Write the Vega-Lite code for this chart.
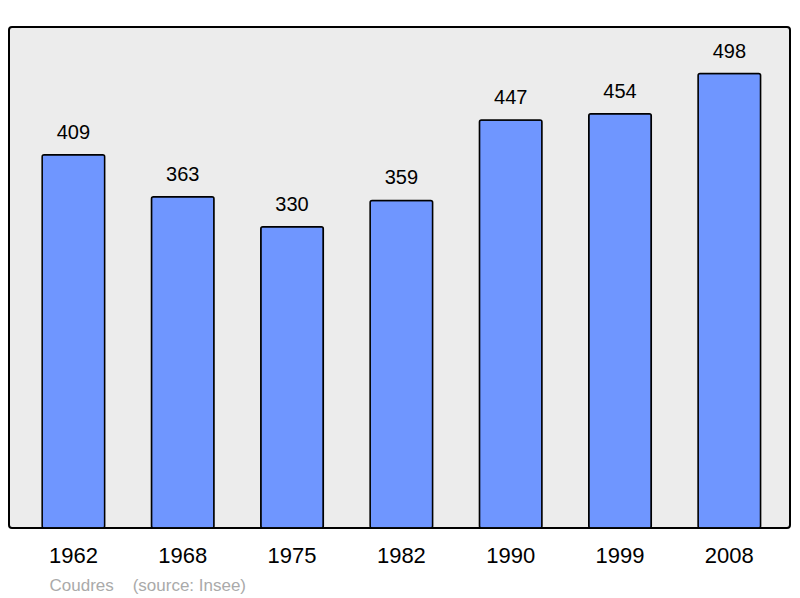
{
  "$schema": "https://vega.github.io/schema/vega-lite/v6.json",
  "width": 781,
  "height": 501,
  "autosize": {"type": "none"},
  "padding": {"left": 9, "top": 27, "right": 10, "bottom": 70},
  "background": "white",
  "data": {
    "values": [
      {"year": "1962", "population": 409},
      {"year": "1968", "population": 363},
      {"year": "1975", "population": 330},
      {"year": "1982", "population": 359},
      {"year": "1990", "population": 447},
      {"year": "1999", "population": 454},
      {"year": "2008", "population": 498}
    ]
  },
  "encoding": {
    "x": {
      "field": "year",
      "type": "ordinal",
      "sort": null,
      "scale": {"paddingInner": 0.428, "paddingOuter": 0.286, "align": 0.53},
      "axis": {
        "title": "Coudres\u00a0\u00a0\u00a0\u00a0(source: Insee)",
        "titleColor": "#aaaaaa",
        "titleFont": "Liberation Sans",
        "titleFontSize": 17,
        "titleFontWeight": "normal",
        "titleAlign": "left",
        "titleAnchor": "start",
        "titleBaseline": "alphabetic",
        "titleX": 40,
        "titleY": 62,
        "labelAngle": 0,
        "labelFont": "Liberation Sans",
        "labelFontSize": 22,
        "labelColor": "black",
        "labelPadding": 17,
        "ticks": false,
        "domain": false
      }
    },
    "y": {
      "field": "population",
      "type": "quantitative",
      "scale": {"domain": [0, 549], "nice": false},
      "axis": null
    }
  },
  "layer": [
    {
      "mark": {"type": "bar", "color": "#6f96ff", "stroke": "black", "strokeWidth": 1.5, "cornerRadius": 2}
    },
    {
      "mark": {"type": "text", "baseline": "bottom", "dy": -12, "font": "Liberation Sans", "fontSize": 20, "color": "black"},
      "encoding": {"text": {"field": "population", "type": "quantitative"}}
    }
  ],
  "config": {
    "view": {"stroke": "black", "strokeWidth": 2, "fill": "#ececec", "cornerRadius": 3}
  }
}
